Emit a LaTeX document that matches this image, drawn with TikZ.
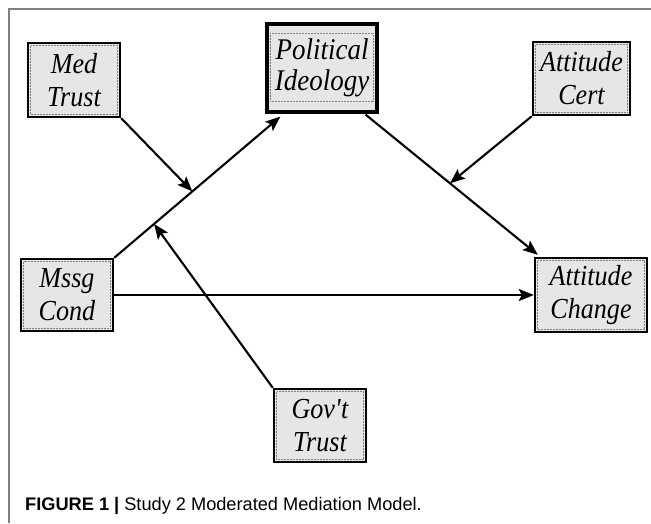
\documentclass[tikz,border=0pt]{standalone}
\usepackage{fontspec}
\setmainfont{Liberation Serif}
\newfontfamily\boxfont{Liberation Serif}[FakeStretch=0.9]
\newfontfamily\capfont{Liberation Sans}
\usetikzlibrary{arrows.meta,calc}
\definecolor{boxgray}{HTML}{E6E6E6}
\definecolor{framegray}{HTML}{808080}
\tikzset{
  varbox/.style={draw=black, line width=2.4pt, fill=boxgray, inner sep=0pt, align=center,
    font=\boxfont\itshape\fontsize{29}{33}\selectfont,
    path picture={\draw[gray, densely dotted, line width=0.5pt]
      ([shift={(2.5pt,-2.5pt)}]path picture bounding box.north west) rectangle
      ([shift={(-2.5pt,2.5pt)}]path picture bounding box.south east);}},
  bigbox/.style={draw=black, line width=3.2pt, fill=boxgray, inner sep=0pt, align=center,
    font=\boxfont\itshape\fontsize{30}{31}\selectfont,
    path picture={\draw[gray, densely dotted, line width=0.5pt]
      ([shift={(3.5pt,-9pt)}]path picture bounding box.north west) rectangle
      ([shift={(-3.5pt,11pt)}]path picture bounding box.south east);}},
  arr/.style={-{Stealth[length=15pt,width=12pt,inset=3pt]}, line width=2.1pt},
  frameline/.style={draw=framegray, line width=1.2pt}
}
\begin{document}
\begin{tikzpicture}[x=1pt,y=-1pt]
\useasboundingbox (0,0) rectangle (651,523);
% frame
\coordinate (fl) at (9,523);
\coordinate (fc) at (9,9);
\coordinate (fr) at (651,9);
\draw[frameline] (fl) -- (fc) -- (fr);
% boxes
\node[varbox, minimum width=92pt, minimum height=74pt] (mt) at (74,80) {Med\\Trust};
\node[bigbox, minimum width=110pt, minimum height=88pt] (pi) at (322,68) {Political\\Ideology};
\node[varbox, minimum width=97pt, minimum height=73pt] (ac) at (581.5,78.5) {Attitude\\Cert};
\node[varbox, minimum width=92pt, minimum height=72pt] (mc) at (67,295) {Mssg\\Cond};
\node[varbox, minimum width=112pt, minimum height=74pt] (ch) at (591,295) {Attitude\\Change};
\node[varbox, minimum width=92pt, minimum height=73pt] (gt) at (320,425.5) {Gov\textquotesingle t\\Trust};
% connector end points
\coordinate (piin) at ([shift={(15pt,-3pt)}]pi.south west);
\coordinate (piout) at ([shift={(-13pt,-1pt)}]pi.south east);
\coordinate (chin) at ([shift={(4pt,2pt)}]ch.north west);
\path (mc.north east) -- (piin) coordinate[pos=0.47] (m1) coordinate[pos=0.24] (m2);
\path (piout) -- (chin) coordinate[pos=0.49] (m3);
% connectors
\draw[arr] (mc.north east) -- (piin);
\draw[arr] (piout) -- (chin);
\draw[arr, line width=2.4pt] (mc.east) -- (ch.west);
\draw[arr] (mt.south east) -- (m1);
\draw[arr] (gt.north west) -- (m2);
\draw[arr] (ac.south west) -- (m3);
% caption
\node[anchor=base west, inner sep=0pt, font=\capfont\fontsize{18.2}{22}\selectfont] (cap) at (25,510)
  {\textbf{FIGURE 1 |} Study 2 Moderated Mediation Model.};
\end{tikzpicture}
\end{document}
